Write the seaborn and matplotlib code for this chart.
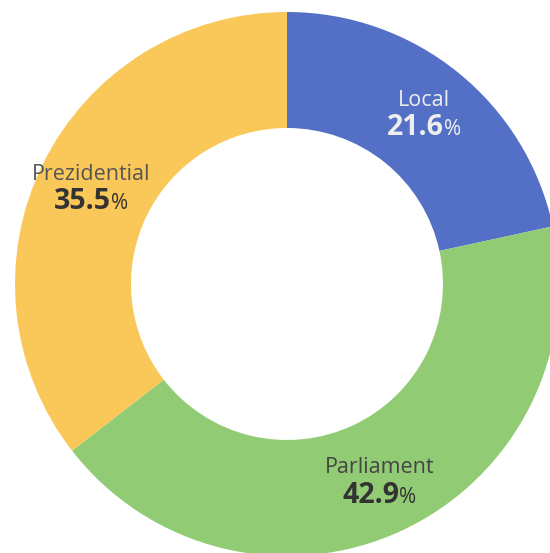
import numpy as np
import matplotlib
matplotlib.use("Agg")
import matplotlib.pyplot as plt
import seaborn as sns

categories = ["Local", "Parliament", "Prezidential"]
values = [21.6, 42.9, 35.5]
colors = ["#5470c6", "#91cc75", "#fac858"]
name_colors = ["#eeeeee", "#444444", "#555555"]
value_colors = ["#eeeeee", "#333333", "#333333"]

sns.set_theme(style="white")
plt.rcParams["font.family"] = ["Open Sans", "DejaVu Sans"]

W, H = 550, 553
fig = plt.figure(figsize=(W / 100, H / 100), dpi=100)
ax = fig.add_axes([0, 0, 1, 1])

cx, cy = 287, 284
r_out, r_in = 272, 156

wedges, _ = ax.pie(values, colors=colors, startangle=-90, counterclock=True,
                   radius=r_out, center=(cx, cy), frame=True,
                   wedgeprops=dict(width=r_out - r_in, linewidth=0))
ax.set_xlim(0, W)
ax.set_ylim(H, 0)
ax.set_aspect("equal")
ax.set_axis_off()

fig.canvas.draw()
renderer = fig.canvas.get_renderer()
r_mid = (r_out + r_in) / 2 + 4
total = sum(values)
cum = 0
for cat, v, nc, vc in zip(categories, values, name_colors, value_colors):
    mid = (cum + v / 2) / total * 2 * np.pi
    cum += v
    lx = cx + r_mid * np.sin(mid)
    ly = cy - r_mid * np.cos(mid)
    ax.text(lx, ly - 14, cat, ha="center", va="center", fontsize=15.5,
            color=nc)
    num = ax.text(0, 0, f"{v:.1f}", ha="left", va="baseline", fontsize=20.5,
                  fontweight="bold", color=vc)
    pct = ax.text(0, 0, "%", ha="left", va="baseline", fontsize=15,
                  color=vc)
    wn = num.get_window_extent(renderer).width
    wp = pct.get_window_extent(renderer).width
    x0 = lx - (wn + wp) / 2
    num.set_position((x0, ly + 21))
    pct.set_position((x0 + wn, ly + 21))

fig.savefig("out.png", dpi=100, facecolor="white")
